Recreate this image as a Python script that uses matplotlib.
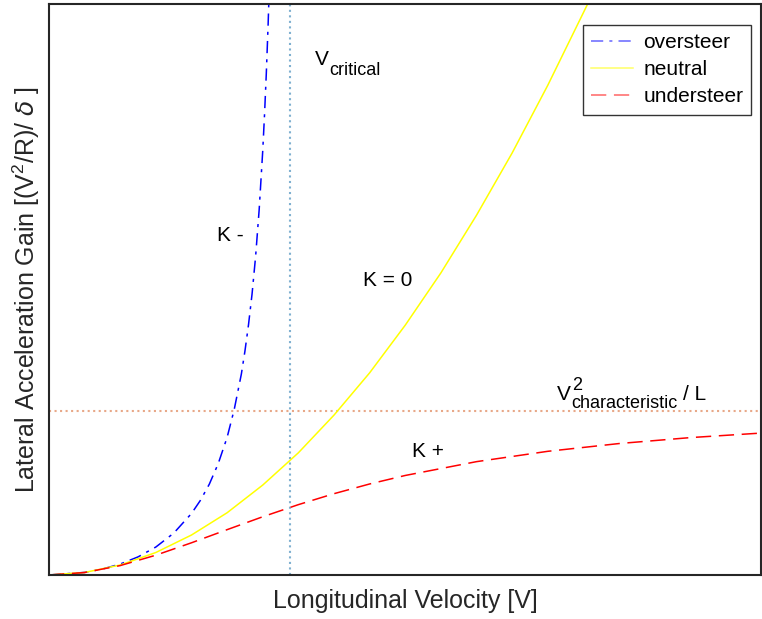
import matplotlib
matplotlib.use("Agg")
import matplotlib.pyplot as plt

plt.rcParams['font.family'] = ['Liberation Sans', 'DejaVu Sans']

# values (V and gain both on a 0..100 scale)
v_neutral = [0, 5, 10, 15, 20, 25, 30, 35, 40, 45, 50, 55, 60, 65, 70, 75.6]
g_neutral = [0, 0.44, 1.75, 3.94, 7.0, 10.9, 15.75, 21.4, 28.0, 35.4, 43.75, 52.9, 63.0, 73.9, 85.75, 100]

v_over = [0, 5, 7.5, 10, 12.5, 15, 17.5, 20, 21.25, 22.5, 23.75, 25, 26, 27, 27.5, 28, 28.5,
          29, 29.5, 30, 30.25, 30.5, 30.75, 31, 31.25]
g_over = [0, 0.45, 1.04, 1.92, 3.17, 4.9, 7.32, 10.77, 13.07, 15.9, 19.5, 24.1, 29.0, 35.2, 39.2, 43.8, 49.2,
          55.8, 64.0, 74.3, 80.6, 87.8, 96.2, 106, 117.9]

v_under = [0, 5, 10, 15, 20, 25, 30, 35, 40, 45, 50, 60, 70, 80, 90, 100]
g_under = [0, 0.43, 1.65, 3.47, 5.64, 7.94, 10.2, 12.32, 14.24, 15.94, 17.43, 19.85, 21.66, 23.02, 24.06, 24.86]

v_critical = 33.8
g_char = 28.7

fig = plt.figure(figsize=(7.62, 6.19), dpi=100)
ax = fig.add_axes([0.0643, 0.0711, 0.935, 0.9224])

ax.axvline(v_critical, color='#7fb0d0', linestyle=':', linewidth=1.5)
ax.axhline(g_char, color='#e8a888', linestyle=':', linewidth=1.5)

ax.plot(v_over, g_over, color='blue', linestyle=(0, (8, 4, 2, 4)), linewidth=1.1, label='oversteer')
ax.plot(v_neutral, g_neutral, color='yellow', linestyle='-', linewidth=1.1, label='neutral')
ax.plot(v_under, g_under, color='red', linestyle=(0, (10, 5)), linewidth=1.1, label='understeer')

ax.text(25.5, 59.4, 'K -', fontsize=15, ha='center', va='center')
ax.text(47.5, 51.5, 'K = 0', fontsize=15, ha='center', va='center')
ax.text(53.2, 21.7, 'K +', fontsize=15, ha='center', va='center')

# V_critical, built from pieces so the subscript stays large
ax.annotate('V', (37.3, 89.3), fontsize=15, va='baseline')
ax.annotate('critical', (37.3, 89.3), xytext=(10.8, -7.2), textcoords='offset points',
            fontsize=13, va='baseline')

# V^2_characteristic / L
ax.annotate('V', (71.25, 30.65), fontsize=15, va='baseline')
ax.annotate('2', (71.25, 30.65), xytext=(10.8, 7.2), textcoords='offset points',
            fontsize=13, va='baseline')
ax.annotate('characteristic', (71.25, 30.65), xytext=(10.8, -5.8), textcoords='offset points',
            fontsize=13, va='baseline')
ax.annotate('/ L', (71.25, 30.65), xytext=(90.7, 0), textcoords='offset points',
            fontsize=15, va='baseline')

ax.set_xlim(0, 100)
ax.set_ylim(0, 100)
ax.set_xticks([])
ax.set_yticks([])
for s in ax.spines.values():
    s.set_color('#262626')
    s.set_linewidth(1.5)

ax.set_xlabel('Longitudinal Velocity [V]', fontsize=18, labelpad=10, color='#262626')
ax.set_ylabel(r'Lateral Acceleration Gain [(V$^{\mathregular{2}}$/R)/ $\delta$ ]', fontsize=18,
              labelpad=5, color='#262626')

leg = ax.legend(loc='upper right', bbox_to_anchor=(0.986, 0.963), borderaxespad=0,
                fontsize=15, fancybox=False, framealpha=1, edgecolor='#333333',
                handlelength=2.0, handletextpad=0.5, labelspacing=0.38, borderpad=0.4)
for h in leg.get_lines():
    h.set_alpha(0.6)

fig.savefig('out.png', dpi=100)
